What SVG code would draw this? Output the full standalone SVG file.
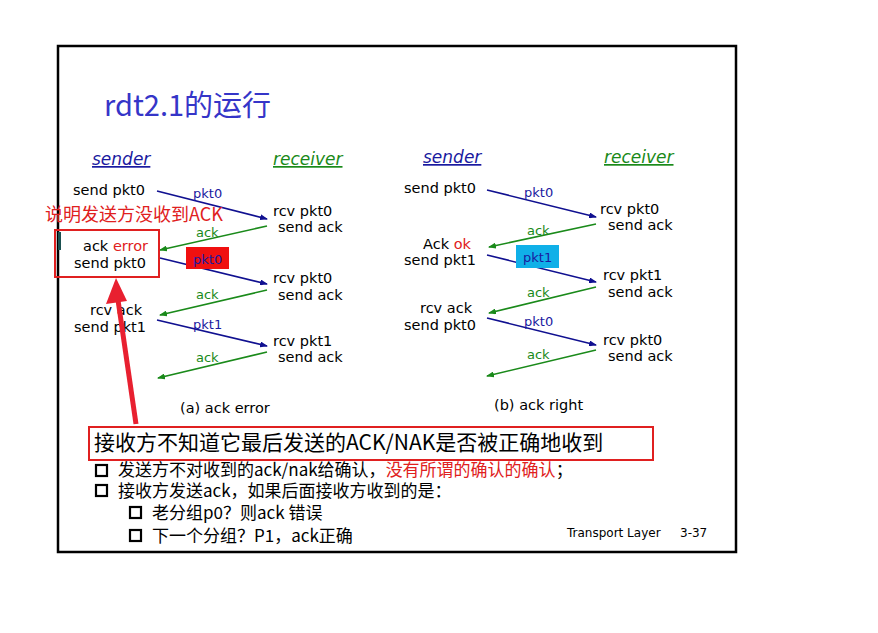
<svg xmlns="http://www.w3.org/2000/svg" width="878" height="633" viewBox="0 0 878 633">
<style>
text{font-family:"DejaVu Sans","Noto Sans CJK SC",sans-serif;font-size:14.5px;fill:#000}
.sm{font-size:13px}
.bl{fill:#1a1aa0}.gr{fill:#1a8a1a}.rd{fill:#e02020}
.hd{font-size:17px;font-style:italic;text-decoration:underline}
.b{stroke:#101090;stroke-width:1.6;marker-end:url(#mb)}
.g{stroke:#1a8a1a;stroke-width:1.6;marker-end:url(#mg)}
.cn{font-family:"Noto Sans CJK SC",sans-serif}
</style>
<defs>
<marker id="mb" markerWidth="8" markerHeight="6" refX="7" refY="3" orient="auto" markerUnits="userSpaceOnUse"><path d="M0,0L8,3L0,6z" fill="#101090"/></marker>
<marker id="mg" markerWidth="8" markerHeight="6" refX="7" refY="3" orient="auto" markerUnits="userSpaceOnUse"><path d="M0,0L8,3L0,6z" fill="#1a8a1a"/></marker>
</defs>
<rect x="0" y="0" width="878" height="633" fill="#fff"/>
<rect x="58" y="46" width="678" height="506" fill="none" stroke="#000" stroke-width="2.5"/>
<rect x="58" y="232" width="3" height="18" fill="#1a5050"/>
<text x="104" y="116" style="font-family:'Noto Sans CJK SC',sans-serif;font-size:29px;fill:#3535c8">rdt2.1的运行</text>

<g id="left-labels">
<text x="92" y="165" class="hd bl">sender</text>
<text x="273" y="165" class="hd gr">receiver</text>
<text x="73" y="195">send pkt0</text>
<text x="83" y="251">ack <tspan class="rd">error</tspan></text>
<text x="74" y="268">send pkt0</text>
<text x="90" y="315">rcv ack</text>
<text x="74" y="332">send pkt1</text>
<text x="273" y="216">rcv pkt0</text>
<text x="278" y="232">send ack</text>
<text x="273" y="283">rcv pkt0</text>
<text x="278" y="300">send ack</text>
<text x="273" y="346">rcv pkt1</text>
<text x="278" y="362">send ack</text>
<text x="180" y="413">(a) ack error</text>
</g>
<g id="right-labels">
<text x="423" y="163" class="hd bl">sender</text>
<text x="604" y="163" class="hd gr">receiver</text>
<text x="404" y="193">send pkt0</text>
<text x="423" y="249">Ack <tspan class="rd">ok</tspan></text>
<text x="404" y="265">send pkt1</text>
<text x="420" y="313">rcv ack</text>
<text x="404" y="330">send pkt0</text>
<text x="600" y="214">rcv pkt0</text>
<text x="608" y="230">send ack</text>
<text x="603" y="280">rcv pkt1</text>
<text x="608" y="297">send ack</text>
<text x="603" y="345">rcv pkt0</text>
<text x="608" y="361">send ack</text>
<text x="494" y="410">(b) ack right</text>
</g>
<g id="connectors">
<line x1="157" y1="191" x2="267" y2="219" class="b"/>
<line x1="267" y1="226" x2="160" y2="250" class="g"/>
<line x1="160" y1="258" x2="267" y2="284" class="b"/>
<line x1="267" y1="290" x2="160" y2="315" class="g"/>
<line x1="157" y1="320" x2="267" y2="346" class="b"/>
<line x1="267" y1="352" x2="158" y2="378" class="g"/>
<line x1="487" y1="190" x2="596" y2="217" class="b"/>
<line x1="596" y1="224" x2="489" y2="247" class="g"/>
<line x1="487" y1="255" x2="596" y2="282" class="b"/>
<line x1="596" y1="287" x2="489" y2="313" class="g"/>
<line x1="487" y1="318" x2="596" y2="345" class="b"/>
<line x1="596" y1="350" x2="487" y2="376" class="g"/>
</g>
<g id="edge-labels">
<text x="193" y="198" class="sm bl">pkt0</text>
<text x="196" y="237" class="sm gr">ack</text>
<rect x="186" y="247" width="43" height="22" fill="#f01010"/>
<text x="193" y="264" class="sm bl">pkt0</text>
<text x="196" y="299" class="sm gr">ack</text>
<text x="193" y="329" class="sm bl">pkt1</text>
<text x="196" y="362" class="sm gr">ack</text>
<text x="524" y="197" class="sm bl">pkt0</text>
<text x="527" y="235" class="sm gr">ack</text>
<rect x="516" y="245" width="43" height="23" fill="#10b0e8"/>
<text x="523" y="262" class="sm bl">pkt1</text>
<text x="527" y="297" class="sm gr">ack</text>
<text x="524" y="326" class="sm bl">pkt0</text>
<text x="527" y="359" class="sm gr">ack</text>
</g>
<g id="annotation">
<text x="45" y="221" class="cn rd" style="font-size:18px">说明发送方没收到ACK</text>
<rect x="55" y="230" width="104" height="47" fill="none" stroke="#e02020" stroke-width="2"/>
<line x1="136" y1="424" x2="118" y2="300" stroke="#e82030" stroke-width="5"/>
<path d="M116,278L106,304L127,301z" fill="#e82030"/>
</g>
<g id="notes">
<rect x="89" y="427" width="564" height="33" fill="none" stroke="#e02020" stroke-width="2"/>
<text x="94" y="450" class="cn" style="font-size:21px">接收方不知道它最后发送的ACK/NAK是否被正确地收到</text>
<rect x="96" y="465" width="11" height="11" fill="none" stroke="#000" stroke-width="2.2"/>
<text x="118" y="476" class="cn" style="font-size:17px">发送方不对收到的ack/nak给确认，<tspan class="rd">没有所谓的确认的确认</tspan>；</text>
<rect x="96" y="485" width="11" height="11" fill="none" stroke="#000" stroke-width="2.2"/>
<text x="118" y="497" class="cn" style="font-size:17px">接收方发送ack，如果后面接收方收到的是：</text>
<rect x="130" y="507" width="11" height="11" fill="none" stroke="#000" stroke-width="2.2"/>
<text x="152" y="519" class="cn" style="font-size:17px">老分组p0？则ack 错误</text>
<rect x="130" y="530" width="11" height="11" fill="none" stroke="#000" stroke-width="2.2"/>
<text x="152" y="542" class="cn" style="font-size:17px">下一个分组？P1，ack正确</text>
<text x="567" y="537" style="font-size:12px">Transport Layer<tspan x="680">3-37</tspan></text>
</g>
</svg>
